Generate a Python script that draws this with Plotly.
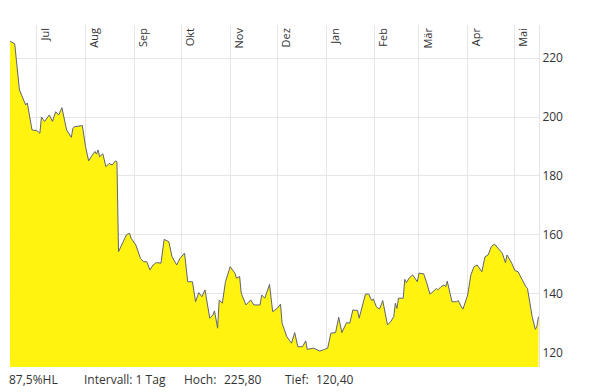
import plotly.graph_objects as go

# ---- data ----
dates = [
    "2022-06-14", "2022-06-17", "2022-06-20", "2022-06-24", "2022-06-25", "2022-06-28",
    "2022-07-01", "2022-07-03", "2022-07-04", "2022-07-06", "2022-07-09", "2022-07-11",
    "2022-07-13", "2022-07-15", "2022-07-17", "2022-07-20", "2022-07-23", "2022-07-24",
    "2022-07-25", "2022-07-30", "2022-08-01", "2022-08-03", "2022-08-05", "2022-08-07",
    "2022-08-08", "2022-08-09", "2022-08-10", "2022-08-12", "2022-08-14", "2022-08-16",
    "2022-08-18", "2022-08-20", "2022-08-21", "2022-08-22", "2022-08-24", "2022-08-27",
    "2022-08-29", "2022-08-30", "2022-09-02", "2022-09-05", "2022-09-07", "2022-09-09",
    "2022-09-11", "2022-09-13", "2022-09-15", "2022-09-18", "2022-09-20", "2022-09-23",
    "2022-09-25", "2022-09-28", "2022-09-30", "2022-10-03", "2022-10-05", "2022-10-08",
    "2022-10-10", "2022-10-12", "2022-10-14", "2022-10-16", "2022-10-19", "2022-10-21",
    "2022-10-22", "2022-10-24", "2022-10-25", "2022-10-27", "2022-10-29", "2022-11-01",
    "2022-11-04", "2022-11-05", "2022-11-07", "2022-11-08", "2022-11-11", "2022-11-14",
    "2022-11-16", "2022-11-20", "2022-11-21", "2022-11-23", "2022-11-26", "2022-11-28",
    "2022-12-01", "2022-12-03", "2022-12-04", "2022-12-07", "2022-12-10", "2022-12-12",
    "2022-12-14", "2022-12-17", "2022-12-19", "2022-12-20", "2022-12-24", "2022-12-28",
    "2022-12-31", "2023-01-02", "2023-01-04", "2023-01-07", "2023-01-09", "2023-01-11",
    "2023-01-14", "2023-01-16", "2023-01-18", "2023-01-21", "2023-01-22", "2023-01-25",
    "2023-01-26", "2023-01-28", "2023-01-30", "2023-01-31", "2023-02-02", "2023-02-04",
    "2023-02-06", "2023-02-09", "2023-02-11", "2023-02-13", "2023-02-14", "2023-02-15",
    "2023-02-16", "2023-02-19", "2023-02-20", "2023-02-21", "2023-02-23", "2023-02-25",
    "2023-02-27", "2023-02-28", "2023-03-01", "2023-03-04", "2023-03-06", "2023-03-08",
    "2023-03-10", "2023-03-12", "2023-03-13", "2023-03-15", "2023-03-17", "2023-03-18",
    "2023-03-19", "2023-03-20", "2023-03-22", "2023-03-25", "2023-03-26", "2023-03-28",
    "2023-03-29", "2023-04-01", "2023-04-03", "2023-04-05", "2023-04-07", "2023-04-10",
    "2023-04-12", "2023-04-14", "2023-04-16", "2023-04-18", "2023-04-20", "2023-04-23",
    "2023-04-25", "2023-04-26", "2023-04-29", "2023-05-01", "2023-05-03", "2023-05-05",
    "2023-05-07", "2023-05-08", "2023-05-09", "2023-05-11", "2023-05-12", "2023-05-14",
    "2023-05-15", "2023-05-16",
]
prices = [
    225.8, 224.9, 209.2, 204.1, 204.8, 195.6,
    195.4, 194.5, 200.0, 198.5, 200.7, 198.5,
    201.8, 200.7, 203.2, 195.6, 193.1, 196.2,
    196.7, 197.1, 190.0, 185.1, 186.8, 188.3,
    187.4, 188.8, 186.5, 187.5, 183.1, 184.2,
    183.7, 185.1, 184.8, 154.2, 156.5, 159.9,
    160.5, 158.8, 156.5, 151.9, 150.8, 150.8,
    148.0, 149.7, 150.5, 150.3, 158.4, 157.6,
    152.5, 149.7, 151.9, 153.7, 144.0, 144.0,
    137.2, 140.3, 138.9, 141.2, 131.6, 132.7,
    134.1, 128.2, 137.8, 136.7, 144.0, 149.1,
    146.9, 145.2, 145.8, 140.1, 136.1, 137.8,
    136.1, 136.1, 139.5, 138.4, 143.1, 133.8,
    135.0, 136.4, 129.9, 125.3, 123.1, 126.7,
    121.9, 121.9, 123.9, 121.0, 121.4, 120.4,
    121.0, 121.4, 126.5, 126.7, 131.9, 126.7,
    130.1, 129.9, 134.4, 134.2, 131.6, 137.8,
    139.8, 139.8, 137.6, 138.1, 135.4, 134.7,
    137.6, 129.3, 130.4, 132.1, 136.7, 134.9,
    138.4, 138.4, 144.8, 143.7, 145.4, 146.3,
    144.6, 144.0, 146.9, 146.7, 143.5, 139.8,
    140.6, 141.7, 141.2, 142.3, 142.9, 142.3,
    144.2, 141.7, 137.2, 137.2, 137.6, 135.4,
    134.7, 139.5, 146.3, 149.1, 149.7, 147.4,
    152.5, 153.1, 155.9, 156.8, 155.4, 153.7,
    150.5, 153.1, 150.3, 147.8, 147.4, 145.2,
    143.5, 142.3, 141.7, 135.5, 132.1, 127.8,
    128.8, 132.1,
]
month_ticks = ["2022-07-01", "2022-08-01", "2022-09-01", "2022-10-01", "2022-11-01",
               "2022-12-01", "2023-01-01", "2023-02-01", "2023-03-01", "2023-04-01",
               "2023-05-01"]
month_labels = ["Jul", "Aug", "Sep", "Okt", "Nov", "Dez", "Jan", "Feb", "Mär", "Apr", "Mai"]
y_ticks = [120, 140, 160, 180, 200, 220]
y_labels = ["120", "140", "160", "180", "200", "220"]

info_left = "87,5%HL"
info_interval = "Intervall: 1 Tag"

def de(v):
    return f"{v:.2f}".replace(".", ",")

FONT = "Open Sans"
TXT = "#333333"

fig = go.Figure()
fig.add_trace(go.Scatter(
    x=dates, y=prices, mode="lines",
    line=dict(color="#5f6470", width=1),
    fill="tozeroy", fillcolor="rgba(255,242,0,0.94)",
    hoverinfo="skip", showlegend=False,
))

fig.update_layout(
    width=595, height=392,
    margin=dict(l=10, r=56, t=25, b=25, autoexpand=False),
    paper_bgcolor="white", plot_bgcolor="white",
    font=dict(family=FONT, color=TXT),
    xaxis=dict(
        type="date",
        range=["2022-06-14", "2023-05-16 08:00"],
        side="top",
        automargin=False,
        tickmode="array", tickvals=month_ticks, ticktext=month_labels,
        tickangle=-90,
        ticklabelposition="inside",
        ticklabelshift=9,
        ticklabelstandoff=-6,
        tickfont=dict(size=11, color=TXT),
        ticks="",
        showgrid=True, gridcolor="#e6e6e6", gridwidth=1,
        showline=False, zeroline=False,
    ),
    yaxis=dict(
        range=[115, 231.3],
        side="right",
        automargin=False,
        tickmode="array", tickvals=y_ticks, ticktext=y_labels,
        tickfont=dict(size=12, color=TXT),
        ticks="", ticklen=0,
        showgrid=True, gridcolor="#e6e6e6", gridwidth=1,
        showline=True, linecolor="#e3e3e3", linewidth=1,
        zeroline=False,
    ),
)

ann_y = -0.0365
texts = [
    (info_left, (8 - 10) / 529),
    (info_interval, (83 - 10) / 529),
    ("Hoch:", (183 - 10) / 529),
    (de(max(prices)), (223 - 10) / 529),
    ("Tief:", (284 - 10) / 529),
    (de(min(prices)), (315 - 10) / 529),
]
for t, xp in texts:
    fig.add_annotation(
        text=t, x=xp, y=ann_y, xref="paper", yref="paper",
        xanchor="left", yanchor="middle", showarrow=False,
        font=dict(size=12, color=TXT, family=FONT), borderpad=0,
    )

fig.write_html("out.html", config={"displayModeBar": False},
               post_script="document.body.style.margin='0px';")
